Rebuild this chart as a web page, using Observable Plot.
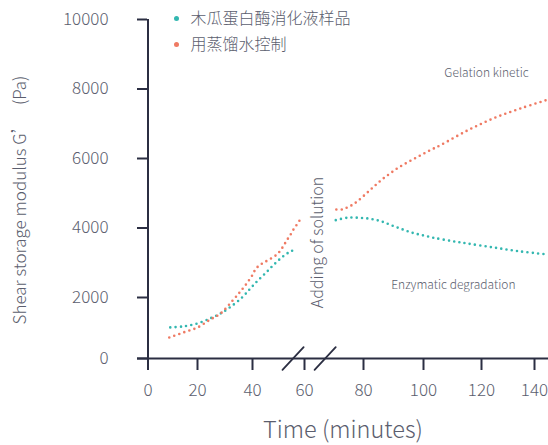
<!DOCTYPE html>
<html><head><meta charset="utf-8">
<script src="https://cdn.jsdelivr.net/npm/d3@7"></script>
<script src="https://cdn.jsdelivr.net/npm/@observablehq/plot@0.6"></script>
<style>
body{margin:0;background:#fff;}
#chart{width:548px;height:445px;}
</style></head><body><div id="chart"></div>
<script>
const seriesNames = ["木瓜蛋白酶消化液样品", "用蒸馏水控制"];
const seriesColors = ["#33b7b0", "#ef7a63"];

// papain digest (teal)
const papainTimeBefore = [9, 14, 20, 25, 28.4, 32, 36.3, 39, 41.8, 45, 47.9, 51.4, 54.6, 56.9];
const papainValBefore  = [1020, 1050, 1150, 1330, 1476, 1690, 2009, 2240, 2469, 2700, 2922, 3161, 3325, 3390];
const papainTimeAfter  = [70.6, 74.5, 78.4, 82.1, 85.7, 89.2, 92.8, 96.3, 99.9, 103.5, 110, 115, 124.5, 134.7, 145];
const papainValAfter   = [4226, 4295, 4295, 4266, 4198, 4082, 3967, 3863, 3786, 3719, 3620, 3555, 3440, 3325, 3238];

// distilled water control (orange)
const waterTimeBefore = [8.6, 14.3, 20, 24.7, 28.4, 33, 35.4, 37.8, 40.1, 41.1, 42.7, 44.3, 46.2, 48.4, 49.9, 51.2, 52.3, 53.4, 54.6, 55.7, 56.9, 58.1];
const waterValBefore  = [690, 853, 1017, 1280, 1476, 1925, 2152, 2394, 2662, 2806, 2930, 2999, 3086, 3181, 3276, 3402, 3535, 3670, 3806, 3950, 4082, 4218];
const waterTimeAfter  = [70.8, 72.8, 74.5, 76.3, 77.9, 80.7, 83.4, 86.2, 89.2, 92.3, 95.7, 99, 102.4, 105.9, 115, 124.5, 134.7, 145];
const waterValAfter   = [4534, 4534, 4592, 4670, 4765, 4975, 5188, 5398, 5591, 5773, 5937, 6090, 6242, 6386, 6800, 7155, 7440, 7700];

const xTicks = [0, 20, 40, 60, 80, 100, 120, 140];
const yTicks = [0, 2000, 4000, 6000, 8000, 10000];
const axisBreaks = [55.6, 67];

const annotations = [
  {text: "Gelation kinetic", t: 121.9, g: 8451},
  {text: "Enzymatic degradation", t: 110.3, g: 2346}
];
const addingNote = [{text: "Adding of solution", t: 64.7, g: 3584}];

function rows(name, seg, ts, vs) {
  return ts.map((t, i) => ({series: name, seg: name + seg, t, g: vs[i]}));
}
const data = [
  ...rows(seriesNames[0], "a", papainTimeBefore, papainValBefore),
  ...rows(seriesNames[0], "b", papainTimeAfter, papainValAfter),
  ...rows(seriesNames[1], "a", waterTimeBefore, waterValBefore),
  ...rows(seriesNames[1], "b", waterTimeAfter, waterValAfter)
];

// broken / uneven axes of the original, as piecewise warps
const xWarp = d3.scaleLinear().domain([0, 20, 40, 60, 80, 100, 120, 140, 145]).range([0, 49.5, 104.5, 156.5, 215.5, 275.5, 333.5, 386.5, 400.5]);
const yWarp = d3.scaleLinear().domain([0, 2000, 10000]).range([0, 61, 339]);

const dark = "#2b2e42";
const grey = "#5b5e6e";
const font = "'Noto Sans CJK SC', 'Source Sans Pro', 'Open Sans', sans-serif";
const slash = {draw(ctx, l) { ctx.moveTo(0, 0); ctx.lineTo(0, -l); }};

const chart = Plot.plot({
  width: 548, height: 445,
  marginLeft: 137, marginRight: 0, marginTop: 19, marginBottom: 83,
  style: {fontFamily: font, fontWeight: 300, background: "#fff"},
  x: {transform: xWarp, domain: [0, 400.5], range: [147.5, 548], label: null},
  y: {transform: yWarp, domain: [0, 339], range: [358, 19], label: null},
  color: {domain: seriesNames, range: seriesColors},
  marks: [
    Plot.ruleY([0], {stroke: dark, strokeWidth: 2}),
    Plot.ruleX([0], {stroke: dark, strokeWidth: 2}),
    Plot.axisY(yTicks, {anchor: "left", tickSize: 10, dx: 10, tickPadding: 29, fontSize: 17, stroke: dark, strokeWidth: 2, fill: grey, label: null, tickFormat: "d"}),
    Plot.axisX(xTicks, {anchor: "bottom", tickSize: 12, dy: -4, tickPadding: 13, fontSize: 17, stroke: dark, strokeWidth: 2, fill: grey, label: null, tickFormat: "d"}),
    Plot.vector(axisBreaks, {x: d => d, y: () => 0, length: 31, rotate: 43, anchor: "middle", shape: slash, stroke: dark, strokeWidth: 1.8}),
    Plot.line(data, {x: "t", y: "g", z: "seg", stroke: "series", curve: "catmull-rom", strokeWidth: 2.6, strokeLinecap: "round", strokeDasharray: "0,5.3"}),
    Plot.text(annotations, {x: "t", y: "g", text: "text", fontSize: 12, fill: grey}),
    Plot.text(addingNote, {x: "t", y: "g", text: "text", rotate: -90, fontSize: 16, fill: grey}),
    Plot.text(["Time (minutes)"], {frameAnchor: "bottom", dy: 68, lineAnchor: "middle", fontSize: 23.5, fill: grey}),
    Plot.text(["Shear storage modulus G’   (Pa)"], {frameAnchor: "left", dx: -117, dy: 9, rotate: -90, textAnchor: "middle", lineAnchor: "middle", fontSize: 17, fill: grey}),
    ...seriesNames.map((name, i) => Plot.dot([name], {frameAnchor: "top-left", dx: 39, dy: -1 + i * 26, r: 2.5, fill: seriesColors[i]})),
    ...seriesNames.map((name, i) => Plot.text([name], {frameAnchor: "top-left", dx: 53, dy: -1 + i * 26, textAnchor: "start", lineAnchor: "middle", fontSize: 16, fill: grey}))
  ]
});
document.getElementById("chart").appendChild(chart);
</script>
</body></html>
